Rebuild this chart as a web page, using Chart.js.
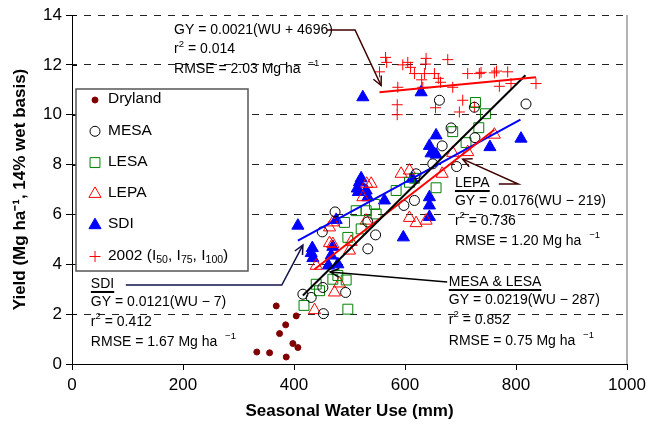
<!DOCTYPE html>
<html>
<head>
<meta charset="utf-8">
<script src="https://cdn.jsdelivr.net/npm/chart.js@4.4.1/dist/chart.umd.min.js"></script>
<style>
  html, body { margin: 0; padding: 0; background: #fff; }
</style>
</head>
<body>
<canvas id="chart" width="647" height="427"></canvas>
<script>
// axis ticks
const xTicks = [0, 200, 400, 600, 800, 1000];
const yTicks = [0, 2, 4, 6, 8, 10, 12, 14];

// [seasonal water use (mm), yield (Mg/ha)]
const dryland = [[333, 0.48], [356, 0.45], [368, 2.33], [374, 1.22], [385, 1.57], [386, 0.28], [398, 0.82], [404, 1.93], [407, 0.66]];
const mesa = [[416, 2.8], [431, 2.67], [452, 3.07], [453, 2.02], [493, 2.87], [451, 5.3], [474, 6.1], [533, 5.7], [547, 5.18], [533, 4.62],
  [598, 6.36], [617, 6.56], [620, 7.63], [650, 8.03], [667, 8.75], [683, 9.47], [693, 7.92], [662, 10.58], [725, 10.3], [726, 9.08], [818, 10.43]];
const lesa = [[418, 2.35], [440, 3.2], [446, 2.94], [470, 3.4], [479, 3.55], [494, 3.37], [497, 2.2], [491, 5.68], [497, 5.08], [512, 6.15],
  [521, 5.42], [530, 6.15], [545, 6.4], [548, 6.02], [584, 6.96], [608, 7.29], [617, 7.45], [656, 7.07], [686, 9.32], [710, 8.88],
  [727, 10.49], [733, 9.48], [745, 10.04]];
const lepa = [[437, 2.16], [473, 2.87], [482, 3.23], [440, 3.94], [464, 4.85], [470, 4.81], [500, 4.55], [503, 4.9], [464, 5.48], [470, 5.68],
  [530, 5.75], [524, 6.69], [531, 7.23], [539, 7.23], [593, 7.63], [608, 7.76], [608, 5.86], [620, 5.65], [638, 5.75], [667, 7.63],
  [686, 8.47], [713, 8.5], [761, 9.2]];
const sdi = [[407, 5.55], [431, 4.45], [434, 4.25], [433, 4.65], [462, 3.95], [467, 4.35], [470, 4.7], [479, 4.0], [476, 5.78], [514, 7.04],
  [518, 7.29], [521, 7.45], [516, 6.9], [530, 6.96], [533, 6.69], [524, 10.7], [563, 6.56], [597, 5.08], [613, 7.43], [629, 10.9],
  [644, 8.75], [647, 8.45], [656, 8.4], [656, 9.17], [644, 6.69], [644, 6.36], [644, 5.9], [753, 8.7], [809, 9.04]];
const y2002 = [[554, 11.72], [565, 12.3], [567, 12.1], [587, 11.1], [586, 10.4], [586, 10.0], [596, 12.0], [605, 12.1], [610, 11.9], [617, 11.65],
  [630, 11.4], [635, 11.65], [638, 12.26], [637, 12.03], [632, 11.1], [653, 11.65], [655, 10.28], [660, 11.46], [664, 11.3], [677, 12.21],
  [686, 11.1], [698, 10.11], [704, 10.58], [713, 11.65], [725, 10.31], [734, 11.65], [737, 11.7], [761, 11.68], [765, 11.75], [770, 11.14],
  [785, 11.72], [791, 11.25], [836, 11.25]];

// fitted lines, end points
const fit2002 = [[554, 10.9], [836, 11.5]];
const fitMesaLesa = [[416, 2.75], [817, 11.58]];
const fitLepa = [[437, 3.8], [761, 9.4]];
const fitSdi = [[407, 4.95], [808, 9.8]];

const FONT = "'Liberation Sans', Arial, sans-serif";

const toXY = arr => arr.map(p => ({ x: p[0], y: p[1] }));

function marker(ctx, style, x, y, r, stroke, fill) {
    ctx.save();
    ctx.strokeStyle = stroke;
    ctx.fillStyle = fill || 'rgba(0,0,0,0)';
    ctx.lineWidth = 1;
    ctx.beginPath();
    if (style === 'circle') {
        ctx.arc(x, y, r, 0, Math.PI * 2);
    } else if (style === 'rect') {
        const s = r * Math.SQRT1_2;
        ctx.rect(x - s, y - s, 2 * s, 2 * s);
    } else if (style === 'triangle') {
        ctx.moveTo(x, y - r);
        ctx.lineTo(x + r * 0.866, y + r * 0.5);
        ctx.lineTo(x - r * 0.866, y + r * 0.5);
        ctx.closePath();
    } else if (style === 'cross') {
        ctx.moveTo(x - r, y); ctx.lineTo(x + r, y);
        ctx.moveTo(x, y - r); ctx.lineTo(x, y + r);
    }
    if (fill) ctx.fill();
    ctx.stroke();
    ctx.restore();
}

// text with super/subscript parts: [[text, 'n'|'sup'|'sub'], ...]
function richText(ctx, x, y, parts, size) {
    ctx.save();
    ctx.textBaseline = 'middle';
    ctx.textAlign = 'left';
    ctx.fillStyle = '#000';
    let cx = x;
    parts.forEach(([t, kind]) => {
        const s = kind === 'n' ? size : size * 0.68;
        const dy = kind === 'sup' ? -size * 0.38 : kind === 'sub' ? size * 0.3 : 0;
        ctx.font = s + 'px ' + FONT;
        ctx.fillText(t, cx, y + dy);
        cx += ctx.measureText(t).width;
    });
    ctx.restore();
    return cx - x;
}

function arrowLine(ctx, pts, color) {
    ctx.save();
    ctx.strokeStyle = color;
    ctx.lineWidth = 1.5;
    ctx.beginPath();
    pts.forEach((p, i) => i ? ctx.lineTo(p[0], p[1]) : ctx.moveTo(p[0], p[1]));
    ctx.stroke();
    const [a, b] = [pts[pts.length - 2], pts[pts.length - 1]];
    const ang = Math.atan2(b[1] - a[1], b[0] - a[0]);
    ctx.beginPath();
    ctx.moveTo(b[0] - 10 * Math.cos(ang - 0.45), b[1] - 10 * Math.sin(ang - 0.45));
    ctx.lineTo(b[0], b[1]);
    ctx.lineTo(b[0] - 10 * Math.cos(ang + 0.45), b[1] - 10 * Math.sin(ang + 0.45));
    ctx.stroke();
    ctx.restore();
}

// annotation blocks, anchored in data units
const notes = [
    { x: 184, ys: [13.40, 12.62, 11.83], title: null,
      lines: ['0.0021(WU + 4696)', '0.014', '2.03'],
      arrow: [[459, 13.4], [510, 13.4], [557, 11.17]], color: '#400000' },
    { x: 34, ys: [3.21, 2.49, 1.68, 0.88], title: 'SDI',
      lines: ['0.0121(WU \u2212 7)', '0.412', '1.67'],
      arrow: [[97, 3.17], [378, 3.17], [416, 4.77]], color: '#10104a' },
    { x: 679, ys: [3.29, 2.57, 1.76, 0.92], title: 'MESA & LESA',
      lines: ['0.0219(WU \u2212 287)', '0.852', '0.75'],
      arrow: [[676, 3.29], [465, 3.69]], color: '#000' },
    { x: 690, ys: [7.26, 6.54, 5.74, 4.93], title: 'LEPA',
      lines: ['0.0176(WU \u2212 219)', '0.736', '1.20'],
      arrow: [[769, 7.22], [804, 7.22], [704, 8.22]], color: '#400000' }
];

const legendItems = [
    { label: [['Dryland', 'n']], style: 'circle', r: 3, stroke: '#800000', fill: '#800000' },
    { label: [['MESA', 'n']], style: 'circle', r: 5, stroke: '#000' },
    { label: [['LESA', 'n']], style: 'rect', r: 7, stroke: '#008000' },
    { label: [['LEPA', 'n']], style: 'triangle', r: 7, stroke: '#ff0000' },
    { label: [['SDI', 'n']], style: 'triangle', r: 7, stroke: '#0000ff', fill: '#0000ff' },
    { label: [['2002 (I', 'n'], ['50', 'sub'], [', I', 'n'], ['75', 'sub'], [', I', 'n'], ['100', 'sub'], [')', 'n']],
      style: 'cross', r: 5.5, stroke: '#ff0000' }
];

const decorations = {
    id: 'decorations',
    afterDraw(chart) {
        const ctx = chart.ctx;
        const xs = chart.scales.x, ys = chart.scales.y;
        const area = chart.chartArea;

        // right frame line
        ctx.save();
        ctx.strokeStyle = '#999';
        ctx.lineWidth = 1.5;
        ctx.beginPath();
        ctx.moveTo(area.right, area.top);
        ctx.lineTo(area.right, area.bottom);
        ctx.stroke();
        // inner half of the y tick marks
        ctx.strokeStyle = '#000';
        ctx.lineWidth = 1;
        yTicks.forEach(v => {
            const py = Math.round(ys.getPixelForValue(v)) + 0.5;
            ctx.beginPath();
            ctx.moveTo(area.left, py);
            ctx.lineTo(area.left + 5, py);
            ctx.stroke();
        });
        ctx.restore();

        // fit annotations
        notes.forEach(n => {
            const px = xs.getPixelForValue(n.x);
            const rows = n.ys.map(v => ys.getPixelForValue(v));
            let i = 0;
            if (n.title) {
                const w = richText(ctx, px, rows[0], [[n.title, 'n']], 14);
                ctx.save();
                ctx.fillStyle = '#000';
                ctx.fillRect(px, rows[0] + 7, w, 2);
                ctx.restore();
                i = 1;
            }
            richText(ctx, px, rows[i], [['GY = ' + n.lines[0], 'n']], 14);
            richText(ctx, px, rows[i + 1], [['r', 'n'], ['2', 'sup'], [' = ' + n.lines[1], 'n']], 14);
            richText(ctx, px, rows[i + 2], [['RMSE = ' + n.lines[2] + ' Mg ha  ', 'n'], ['\u22121', 'sup']], 14);
            arrowLine(ctx, n.arrow.map(p => [xs.getPixelForValue(p[0]), ys.getPixelForValue(p[1])]), n.color);
        });

        // legend box
        const lx = area.left + 4, ly = area.top + 74, lw = 172, lh = 182;
        ctx.save();
        ctx.fillStyle = '#fff';
        ctx.strokeStyle = '#555';
        ctx.lineWidth = 1.5;
        ctx.fillRect(lx, ly, lw, lh);
        ctx.strokeRect(lx, ly, lw, lh);
        ctx.restore();
        legendItems.forEach((it, k) => {
            const cy = ly + 10 + k * 31.3;
            marker(ctx, it.style, lx + 19, cy + 1, it.r, it.stroke, it.fill);
            richText(ctx, lx + 32, cy, it.label, 15.5);
        });
    }
};

const pointSet = (label, arr, style, r, stroke, fill) => ({
    type: 'scatter',
    label: label,
    data: toXY(arr),
    pointStyle: style,
    pointRadius: r,
    pointBorderWidth: 1,
    pointBorderColor: stroke,
    pointBackgroundColor: fill || 'rgba(0,0,0,0)',
    showLine: false
});

const lineSet = (label, arr, color) => ({
    type: 'line',
    label: label,
    data: toXY(arr),
    borderColor: color,
    borderWidth: 2,
    pointRadius: 0,
    fill: false,
    showLine: true
});

new Chart(document.getElementById('chart').getContext('2d'), {
    type: 'scatter',
    data: {
        datasets: [
            lineSet('2002 fit', fit2002, '#ff0000'),
            lineSet('MESA & LESA fit', fitMesaLesa, '#000'),
            lineSet('LEPA fit', fitLepa, '#ff0000'),
            lineSet('SDI fit', fitSdi, '#0000ff'),
            pointSet('Dryland', dryland, 'circle', 3, '#800000', '#800000'),
            pointSet('MESA', mesa, 'circle', 5, '#000'),
            pointSet('LESA', lesa, 'rect', 7, '#008000'),
            pointSet('LEPA', lepa, 'triangle', 7, '#ff0000'),
            pointSet('SDI', sdi, 'triangle', 7, '#0000ff', '#0000ff'),
            pointSet('2002', y2002, 'cross', 5.5, '#ff0000')
        ]
    },
    options: {
        responsive: false,
        animation: false,
        layout: { padding: { top: 15, right: 20, left: 0, bottom: 0 } },
        plugins: {
            legend: { display: false },
            tooltip: { enabled: false }
        },
        scales: {
            x: {
                type: 'linear',
                min: 0,
                max: 1000,
                afterBuildTicks: s => { s.ticks = xTicks.map(v => ({ value: v })); },
                afterFit: s => { s.height = 63; s.paddingRight = 0; s.paddingLeft = 0; },
                ticks: { color: '#000', font: { size: 17, family: FONT }, padding: 5, maxRotation: 0, callback: v => String(v) },
                grid: { drawOnChartArea: false, drawTicks: true, tickLength: 6, tickColor: '#000' },
                border: { color: '#000', width: 1 },
                title: {
                    display: true,
                    text: 'Seasonal Water Use (mm)',
                    color: '#000',
                    font: { size: 17, weight: 'bold', family: FONT },
                    padding: { top: 0, bottom: 5 }
                }
            },
            y: {
                type: 'linear',
                min: 0,
                max: 14,
                afterBuildTicks: s => { s.ticks = yTicks.map(v => ({ value: v })); },
                afterFit: s => { s.width = 72; },
                ticks: { color: '#000', font: { size: 17, family: FONT }, padding: 4, callback: v => String(v) },
                grid: {
                    drawOnChartArea: true,
                    color: c => (c.tick && c.tick.value === 0 ? 'rgba(0,0,0,0)' : '#222'),
                    lineWidth: 1,
                    tickLength: 6,
                    tickColor: '#000',
                    tickBorderDash: []
                },
                border: { color: '#000', width: 1, dash: [7, 7], dashOffset: 3 },
                title: {
                    display: true,
                    text: 'Yield (Mg ha\u207B\u00B9, 14% wet basis)',
                    color: '#000',
                    font: { size: 17, weight: 'bold', family: FONT },
                    padding: { top: 10, bottom: 0 }
                }
            }
        }
    },
    plugins: [decorations]
});
</script>
</body>
</html>
